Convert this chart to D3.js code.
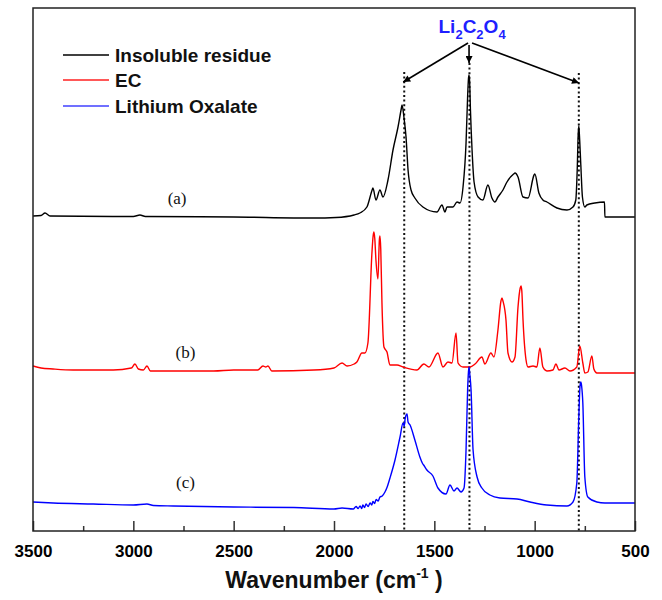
<!DOCTYPE html>
<html>
<head>
<meta charset="utf-8">
<script src="https://cdn.jsdelivr.net/npm/d3@7/dist/d3.min.js"></script>
<style>
  html, body { margin: 0; padding: 0; background: #fff; }
  svg { display: block; }
</style>
</head>
<body>
<svg id="chart" width="662" height="600"></svg>
<script>
// FTIR spectra, stacked (intensity in arbitrary units, offset per trace)
const seriesNames = ["Insoluble residue", "EC", "Lithium Oxalate"];
const seriesTags = ["(a)", "(b)", "(c)"];
const seriesColors = ["#000000", "#ff0000", "#0000ff"];
const legendColors = ["#000000", "#ff2020", "#4040ff"];

// [wavenumber (cm-1), intensity]
const residue = [[3500,63.0],[3460,63.1],[3440,63.6],[3415,63.0],[3000,62.9],[2967,63.2],[2940,62.9],[2500,62.8],[2100,62.6],[1990,62.7],[1900,63.2],[1871,63.6],[1836,64.8],[1810,68.2],[1806,68.6],[1791,66.2],[1771,68.2],[1756,66.8],[1731,70.2],[1706,76.2],[1681,80.8],[1665,84.4],[1661,85.2],[1651,82.6],[1641,78.8],[1631,72.2],[1616,68.2],[1597,66.6],[1557,64.8],[1487,63.8],[1462,65.2],[1447,63.8],[1437,64.8],[1407,64.8],[1387,65.8],[1372,65.6],[1357,68.8],[1342,77.6],[1334,87.0],[1330,90.4],[1327,91.2],[1324,89.8],[1320,84.2],[1312,76.2],[1302,69.8],[1282,66.8],[1258,66.2],[1233,69.2],[1213,66.6],[1198,65.8],[1183,66.8],[1158,68.2],[1138,69.8],[1105,71.4],[1098,71.6],[1083,70.8],[1058,66.8],[1033,66.6],[1003,71.2],[999,71.4],[979,67.6],[959,66.2],[939,65.8],[889,64.6],[839,64.2],[809,64.8],[795,66.2],[788,72.2],[783,79.4],[780,81.0],[777,79.2],[770,73.2],[762,66.8],[750,64.8],[740,65.2],[700,65.6],[652,65.8],[650,62.8],[500,62.8]];

const ec = [[3500,33.0],[3460,32.6],[3400,32.4],[3300,32.2],[3100,32.2],[3010,32.6],[2992,33.4],[2975,32.4],[2950,32.2],[2932,33.0],[2915,32.0],[2600,32.0],[2500,32.2],[2380,32.2],[2354,33.0],[2340,32.8],[2329,33.0],[2310,32.0],[2100,32.2],[2000,32.6],[1960,33.6],[1935,33.0],[1900,33.4],[1886,33.8],[1861,35.6],[1846,35.6],[1831,37.6],[1811,55.6],[1805,59.0],[1801,59.8],[1797,58.6],[1791,54.2],[1781,50.4],[1774,58.2],[1771,59.0],[1767,56.4],[1761,45.6],[1751,36.8],[1736,35.8],[1721,33.2],[1686,33.2],[1656,32.8],[1587,32.2],[1552,33.4],[1527,32.8],[1482,35.6],[1457,32.8],[1432,33.8],[1412,33.6],[1392,39.6],[1382,33.6],[1357,32.8],[1322,32.8],[1297,33.4],[1263,34.8],[1248,33.4],[1218,35.6],[1203,34.8],[1183,40.2],[1168,46.0],[1163,46.6],[1158,46.0],[1143,42.2],[1133,35.6],[1113,33.8],[1098,34.8],[1083,44.8],[1072,48.6],[1068,49.0],[1064,48.0],[1058,42.2],[1043,34.2],[1033,32.8],[1008,33.0],[989,32.8],[974,36.6],[959,32.8],[939,32.0],[909,32.2],[894,33.4],[879,32.2],[849,32.6],[824,32.0],[790,32.8],[775,37.0],[760,33.6],[750,31.6],[735,31.8],[715,35.0],[705,32.4],[690,31.6],[500,31.6]];

const oxalate = [[3500,5.8],[3400,5.6],[3200,5.4],[3000,5.2],[2932,5.4],[2900,5.1],[2800,5.0],[2500,4.8],[2200,4.7],[2000,4.4],[1960,4.6],[1904,4.4],[1890,4.9],[1880,4.5],[1870,5.0],[1862,4.5],[1856,5.2],[1848,4.7],[1840,5.4],[1830,4.9],[1820,5.6],[1812,5.2],[1806,5.9],[1798,5.5],[1790,6.3],[1780,6.0],[1771,6.8],[1760,7.0],[1746,7.8],[1735,8.8],[1721,10.6],[1696,14.2],[1671,18.8],[1656,21.6],[1650,21.0],[1645,22.6],[1636,23.4],[1631,21.8],[1621,21.2],[1597,18.2],[1572,14.8],[1560,13.6],[1550,13.0],[1537,12.2],[1507,11.0],[1482,8.6],[1442,7.4],[1422,9.2],[1402,8.0],[1387,8.6],[1367,7.8],[1352,8.6],[1342,16.2],[1334,28.4],[1330,31.8],[1327,32.8],[1324,31.6],[1317,28.2],[1307,16.2],[1287,10.8],[1263,8.6],[1223,7.2],[1173,6.6],[1088,6.4],[1023,5.8],[939,5.2],[839,5.0],[809,5.8],[790,9.6],[780,22.8],[774,29.0],[770,29.8],[766,29.0],[760,25.6],[750,10.8],[735,6.8],[690,5.8],[650,5.6],[500,5.6]];

const spectra = [residue, ec, oxalate];

// Li2C2O4 band positions (cm-1)
const oxalateBands = [1650, 1325, 780];

const majorTicks = [3500, 3000, 2500, 2000, 1500, 1000, 500];
const minorTicks = [3250, 2750, 2250, 1750, 1250, 750];

const svg = d3.select("#chart");
const W = 662, H = 600;
const margin = { left: 33, right: 27, top: 8, bottom: 69 };

const x = d3.scaleLinear().domain([3500, 500]).range([margin.left, W - margin.right]);
const y = d3.scaleLinear().domain([0, 104.6]).range([H - margin.bottom, margin.top]);

const x0 = x.range()[0], x1 = x.range()[1];
const yb = y.range()[0], yt = y.range()[1];

// Axis: major and minor ticks, pointing inward
const gx = svg.append("g").attr("transform", `translate(0,${yb})`)
  .call(d3.axisBottom(x).tickValues(majorTicks).tickSize(-10).tickPadding(14).tickFormat(d3.format("d")));
gx.select(".domain").remove();
gx.selectAll(".tick line").attr("stroke", "#333").attr("stroke-width", 1.5);
gx.selectAll(".tick text")
  .attr("font-family", "'Liberation Sans', Arial, sans-serif")
  .attr("font-size", 17).attr("font-weight", "bold").attr("fill", "#000");

const gm = svg.append("g").attr("transform", `translate(0,${yb})`)
  .call(d3.axisBottom(x).tickValues(minorTicks).tickSize(-5).tickFormat(""));
gm.select(".domain").remove();
gm.selectAll(".tick line").attr("stroke", "#333").attr("stroke-width", 1.5);

// Dotted band markers
const bandTop = [91.8, 93.6, 91.6];
svg.append("g").selectAll("line").data(oxalateBands).join("line")
  .attr("x1", d => x(d)).attr("x2", d => x(d))
  .attr("y1", (d, i) => y(bandTop[i])).attr("y2", yb)
  .attr("stroke", "#111").attr("stroke-width", 2)
  .attr("stroke-dasharray", "2,2.6");

// Spectra
const line = d3.line().x(d => x(d[0])).y(d => y(d[1])).curve(d3.curveMonotoneX);
svg.append("g").selectAll("path").data(spectra).join("path")
  .attr("d", d => line(d.slice().reverse()))
  .attr("fill", "none")
  .attr("stroke", (d, i) => seriesColors[i])
  .attr("stroke-width", 1.4)
  .attr("stroke-linejoin", "round");

// Trace tags
const tagPos = [[2782, 65.4], [2740, 34.6], [2740, 8.6]];
svg.append("g").selectAll("text").data(seriesTags).join("text")
  .attr("x", (d, i) => x(tagPos[i][0]))
  .attr("y", (d, i) => y(tagPos[i][1]))
  .attr("text-anchor", "middle")
  .attr("font-family", "'Liberation Serif', 'Times New Roman', serif")
  .attr("font-size", 17).attr("fill", "#111")
  .text(d => d);

// Frame
svg.append("rect")
  .attr("x", x0).attr("y", yt).attr("width", x1 - x0).attr("height", yb - yt)
  .attr("fill", "none").attr("stroke", "#222").attr("stroke-width", 1.5);

// Arrows to the oxalate bands
const defs = svg.append("defs");
defs.append("marker")
  .attr("id", "head").attr("viewBox", "0 0 10 10")
  .attr("refX", 10).attr("refY", 5)
  .attr("markerWidth", 10).attr("markerHeight", 7)
  .attr("markerUnits", "userSpaceOnUse")
  .attr("orient", "auto")
  .append("path").attr("d", "M0,0 L10,5 L0,10 Z").attr("fill", "#000");

const arrows = [
  { from: [1332, 97.6], to: [1655, 89.8] },
  { from: [1327, 97.2], to: [1327, 93.6] },
  { from: [1312, 97.6], to: [779, 89.6] }
];
svg.append("g").selectAll("line").data(arrows).join("line")
  .attr("x1", d => x(d.from[0])).attr("y1", d => y(d.from[1]))
  .attr("x2", d => x(d.to[0])).attr("y2", d => y(d.to[1]))
  .attr("stroke", "#000").attr("stroke-width", 1.6)
  .attr("marker-end", "url(#head)");

// Compound label
const lbl = svg.append("text")
  .attr("x", x(1312)).attr("y", 33)
  .attr("text-anchor", "middle")
  .attr("font-family", "'Liberation Sans', Arial, sans-serif")
  .attr("font-weight", "bold").attr("font-size", 19).attr("fill", "#1f1fff");
[["Li", false], ["2", true], ["C", false], ["2", true], ["O", false], ["4", true]].forEach(([t, sub], i, arr) => {
  const prevSub = i > 0 && arr[i - 1][1];
  const dy = sub ? 6 : (prevSub ? -6 : 0);
  lbl.append("tspan").attr("dy", dy).attr("font-size", sub ? 13 : 19).text(t);
});

// Legend
const lg = svg.append("g");
const legendRows = [55, 80, 106];
seriesNames.forEach((name, i) => {
  lg.append("line").attr("x1", 63).attr("x2", 109)
    .attr("y1", legendRows[i]).attr("y2", legendRows[i])
    .attr("stroke", legendColors[i]).attr("stroke-width", 1.5);
  lg.append("text").attr("x", 115).attr("y", legendRows[i] + 7)
    .attr("font-family", "'Liberation Sans', Arial, sans-serif")
    .attr("font-weight", "bold").attr("font-size", 19).attr("fill", "#111")
    .text(name);
});

// Axis title
const title = svg.append("text")
  .attr("x", (x0 + x1) / 2).attr("y", 588)
  .attr("text-anchor", "middle")
  .attr("font-family", "'Liberation Sans', Arial, sans-serif")
  .attr("font-weight", "bold").attr("font-size", 23).attr("fill", "#111");
title.append("tspan").text("Wavenumber (cm");
title.append("tspan").attr("dy", -10).attr("font-size", 14).text("-1");
title.append("tspan").attr("dy", 10).text(" )");
</script>
</body>
</html>
